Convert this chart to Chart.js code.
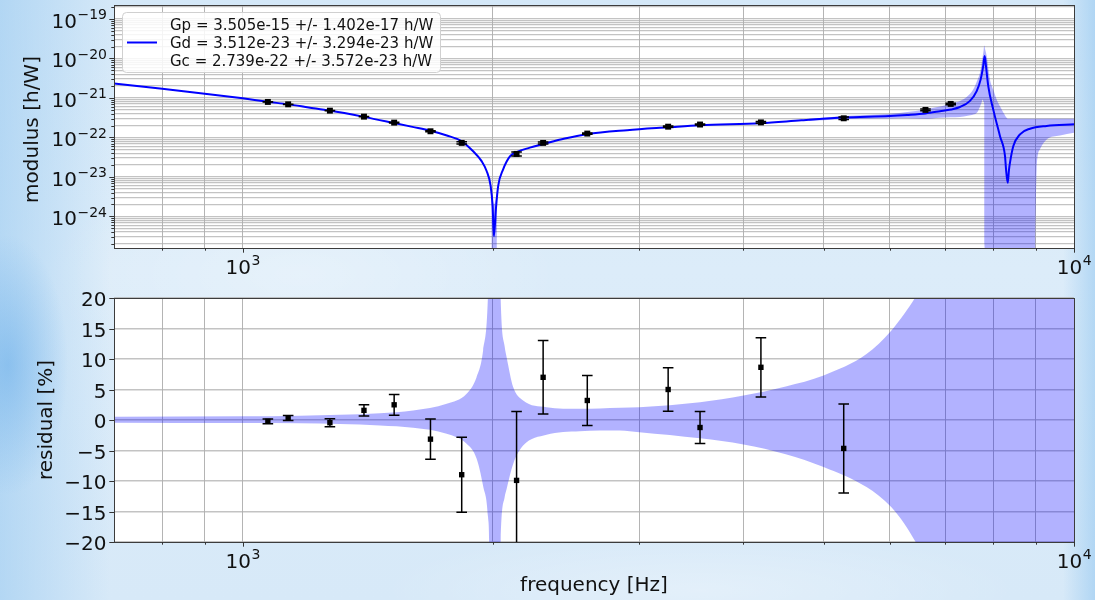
<!DOCTYPE html>
<html>
<head>
<meta charset="utf-8">
<script src="https://cdn.jsdelivr.net/npm/chart.js@4.4.1/dist/chart.umd.min.js"></script>
<style>
  html, body { margin: 0; padding: 0; }
  body {
    width: 1095px; height: 600px; overflow: hidden; position: relative;
    background:
      radial-gradient(ellipse 60px 130px at 8px 365px, rgba(95,168,232,0.5), rgba(95,168,232,0) 100%),
      linear-gradient(90deg, rgba(150,200,240,0.55) 0px, rgba(150,200,240,0) 110px),
      linear-gradient(270deg, rgba(145,198,240,0.55) 0px, rgba(145,198,240,0) 32px),
      radial-gradient(ellipse 260px 110px at 300px 275px, rgba(255,255,255,0.3), rgba(255,255,255,0) 100%),
      radial-gradient(ellipse 320px 60px at 700px 590px, rgba(255,255,255,0.3), rgba(255,255,255,0) 100%),
      linear-gradient(180deg, #d4e8f8 0%, #dcecf9 45%, #d7e9f8 100%);
  }
  canvas { position: absolute; left: 0; }
  #modulusChart { top: 0; }
  #residualChart { top: 290px; }
</style>
</head>
<body>
<canvas id="modulusChart" width="1095" height="290"></canvas>
<canvas id="residualChart" width="1095" height="310"></canvas>
<script>
// ---- measured transfer function (frequency in Hz, modulus in h/W) ----
const measFreq = [1072, 1134, 1273, 1399, 1521, 1682, 1834, 2135, 2298, 2597, 3249, 3549, 4201, 5284, 6627, 7107];
const measModulus = [7.92e-22, 6.89e-22, 4.76e-22, 3.36e-22, 2.37e-22, 1.43e-22, 7.26e-23, 3.82e-23,
                     7.26e-23, 1.25e-22, 1.87e-22, 2.12e-22, 2.40e-22, 3.05e-22, 4.97e-22, 7.05e-22];
const measModulusErr = [3.0e-24, 2.8e-24, 3.1e-24, 3.1e-24, 4.0e-24, 4.7e-24, 4.5e-24, 4.3e-24,
                        4.4e-24, 5.1e-24, 6.6e-24, 5.6e-24, 1.17e-23, 2.2e-23, 2.5e-23, 3.0e-23];

// ---- residuals of the fit [%] (first 14 measurement points) ----
const residual = [-0.22, 0.33, -0.44, 1.58, 2.49, -3.14, -8.97, -9.9, 7.0, 3.2, 5.0, -1.23, 8.64, -4.66];
const residualErr = [0.38, 0.4, 0.65, 0.93, 1.7, 3.3, 6.15, 11.3, 6.03, 4.1, 3.55, 2.64, 4.86, 7.3];

// ---- fitted model |G(f)| ----
const modelFreq = [700, 800, 900, 1000, 1072, 1134, 1200, 1273, 1399, 1521, 1600, 1682, 1760, 1834, 1893, 1938,
                   1965, 1987, 1998, 2005, 2016, 2029, 2057, 2096, 2135, 2215, 2298, 2440, 2597, 2900, 3249, 3549,
                   4201, 4700, 5284, 6000, 6300, 6627, 6900, 7112, 7292, 7497, 7637, 7722, 7777, 7808, 7836, 7886,
                   7995, 8147, 8260, 8284, 8322, 8353, 8375, 8453, 8610, 8852, 9271, 10000];
const modelModulus = [2.33e-21, 1.71e-21, 1.285e-21, 9.78e-22, 8.0e-22, 6.87e-22, 5.75e-22, 4.78e-22, 3.31e-22,
                      2.31e-22, 1.85e-22, 1.48e-22, 1.12e-22, 7.98e-23, 4.47e-23, 2.51e-23, 1.41e-23, 5.89e-24,
                      1.82e-24, 3.16e-25, 1.51e-24, 5.89e-24, 1.55e-23, 3.3e-23, 4.24e-23, 5.5e-23, 6.78e-23,
                      9.4e-23, 1.21e-22, 1.52e-22, 1.80e-22, 2.04e-22, 2.3e-22, 2.72e-22, 3.2e-22, 3.5e-22,
                      3.72e-22, 4.05e-22, 4.6e-22, 5.1e-22, 5.9e-22, 8.4e-22, 1.48e-21, 2.95e-21, 6.46e-21,
                      1.15e-20, 6.46e-21, 2.0e-21, 5.13e-22, 1.07e-22, 3.39e-23, 1.55e-23, 7.08e-24, 1.55e-23,
                      2.29e-23, 6.03e-23, 1.20e-22, 1.66e-22, 1.95e-22, 2.14e-22];

// ---- model uncertainty band, resonance region ----
const bandFreq = [4800, 5000, 5300, 5628, 6027, 6300, 6610, 6900, 7100, 7292, 7450, 7566, 7650, 7707, 7740, 7765,
                  7785, 7799, 7813, 7851, 7923, 8000, 8071, 8150, 8221, 8337, 8500, 8800, 8950, 8983, 9017, 9100,
                  9271, 9620, 10000];
const bandHigh = [2.98e-22, 3.17e-22, 3.49e-22, 3.72e-22, 4.0e-22, 4.4e-22, 5.13e-22, 6.03e-22, 7.08e-22, 8.32e-22,
                  1.12e-21, 1.66e-21, 2.82e-21, 4.37e-21, 7.08e-21, 1.12e-20, 1.58e-20, 2.14e-20, 1.78e-20, 1.15e-20,
                  2.95e-21, 1.58e-21, 9.12e-22, 6.03e-22, 4.27e-22, 2.95e-22, 2.95e-22, 2.95e-22, 2.95e-22, 2.95e-22,
                  2.95e-22, 2.95e-22, 2.95e-22, 2.95e-22, 2.95e-22];
const bandLow = [2.62e-22, 2.73e-22, 2.91e-22, 2.98e-22, 3.0e-22, 3.05e-22, 2.95e-22, 3.16e-22, 3.25e-22, 3.31e-22,
                 3.55e-22, 3.8e-22, 4.37e-22, 6.0e-22, 7.6e-22, 9.12e-22, 7.9e-22, 6.3e-22, 1e-27, 1e-27,
                 1e-27, 1e-27, 1e-27, 1e-27, 1e-27, 1e-27, 1e-27, 1e-27, 1e-27, 2.2e-25,
                 1.55e-23, 5.0e-23, 8.9e-23, 1.12e-22, 1.32e-22];

// ---- model uncertainty band around the notch ----
const notchFreq = [1990, 1997, 2005, 2014, 2024];
const notchHigh = [6.0e-24, 3.2e-24, 2.0e-24, 2.6e-24, 5.0e-24];
const notchLow = [3.0e-24, 1e-27, 1e-27, 1e-27, 2.5e-24];

// ---- relative model uncertainty band for the residual panel [%] ----
const residBandFreq = [700, 1000, 1171, 1308, 1462, 1603, 1759, 1859, 1911, 1946, 1973, 1979, 1990, 2005, 2025,
                       2042, 2066, 2077, 2115, 2174, 2320, 2544, 2843, 3000, 3549, 4003, 4500, 4997, 5628, 6027,
                       6250, 6468, 6700, 7000, 8000, 10000];
const residBandHigh = [0.55, 0.6, 0.7, 0.85, 1.12, 1.56, 2.65, 4.29, 7.0, 11.4, 21, 30, 60, 100, 60,
                       21, 12, 10.3, 5.4, 3.2, 2.1, 1.83, 2.0, 2.1, 2.9, 4.0, 5.5, 7.3, 10.8, 14.65,
                       17.4, 20.5, 24.5, 31, 60, 150];
const residBandLow = [-0.45, -0.5, -0.55, -0.65, -0.9, -1.28, -2.26, -3.9, -6.3, -10.8, -16, -20.5, -60, -100, -60,
                      -21, -12.6, -11.3, -7.2, -4.2, -2.4, -1.83, -1.71, -2.0, -3.0, -4.0, -5.6, -7.7, -11.0, -14.26,
                      -17.0, -20.3, -24, -30, -60, -150];

// ---- axes and labels ----
const freqRange = [700, 10000];
const modulusRange = [1.58e-25, 2.26e-19];
const residRange = [-20, 20];
const freqMajor = [1000, 10000];
const modulusMajor = [1e-24, 1e-23, 1e-22, 1e-21, 1e-20, 1e-19];
const residTicks = [-20, -15, -10, -5, 0, 5, 10, 15, 20];
const fitLines = [
  'Gp = 3.505e-15 +/- 1.402e-17 h/W',
  'Gd = 3.512e-23 +/- 3.294e-23 h/W',
  'Gc = 2.739e-22 +/- 3.572e-23 h/W'
];
const titles = { modulus: 'modulus [h/W]', residual: 'residual [%]', frequency: 'frequency [Hz]' };

const FONT = '"DejaVu Sans", "Liberation Sans", sans-serif';
const BAND = 'rgba(0,0,255,0.3)';
const LINE = '#0000ff';

const pts = (xs, ys) => xs.map((x, i) => ({ x, y: ys[i] }));
const expOf = v => Math.round(Math.log10(v));
const isMajorLog = (v, majors) => majors.some(m => Math.abs(v / m - 1) < 1e-6);

function logTicks(min, max) {
  const out = [];
  for (let n = Math.floor(Math.log10(min)); n <= Math.ceil(Math.log10(max)); n++) {
    for (let k = 1; k <= 9; k++) {
      const v = k * Math.pow(10, n);
      if (v >= min * 0.9999 && v <= max * 1.0001) out.push(v);
    }
  }
  return out;
}

// "10" with a raised exponent, like mathtext
function pow10Label(ctx, x, y, exp, align) {
  const base = '10';
  const sup = exp < 0 ? '\u2212' + (-exp) : String(exp);
  ctx.font = '20px ' + FONT; const wb = ctx.measureText(base).width;
  ctx.font = '14px ' + FONT; const ws = ctx.measureText(sup).width;
  const left = align === 'center' ? x - (wb + ws) / 2 : x - (wb + ws);
  ctx.textAlign = 'left'; ctx.textBaseline = 'alphabetic';
  ctx.font = '20px ' + FONT; ctx.fillText(base, left, y);
  ctx.font = '14px ' + FONT; ctx.fillText(sup, left + wb + 0.5, y - 8.7);
}

// white axes face, frame, tick marks, tick labels, axis titles, legend
const framePlugin = {
  id: 'frame',
  beforeDraw(chart) {
    const { ctx, chartArea: a } = chart;
    ctx.save();
    ctx.fillStyle = '#ffffff';
    ctx.fillRect(a.left, a.top, a.right - a.left, a.bottom - a.top);
    ctx.restore();
  },
  afterDraw(chart, args, opts) {
    const { ctx, chartArea: a } = chart;
    const xs = chart.scales.x, ys = chart.scales.y;
    ctx.save();
    ctx.strokeStyle = '#3c3c3c'; ctx.lineWidth = 1;
    ctx.strokeRect(Math.round(a.left) + 0.5, Math.round(a.top) + 0.5,
                   Math.round(a.right - a.left), Math.round(a.bottom - a.top));
    ctx.fillStyle = '#111'; ctx.strokeStyle = '#333';
    // x ticks
    ctx.beginPath();
    xs.ticks.forEach(t => {
      const px = Math.round(xs.getPixelForValue(t.value)) + 0.5;
      const len = isMajorLog(t.value, freqMajor) ? 4.7 : 2.7;
      ctx.moveTo(px, a.bottom); ctx.lineTo(px, a.bottom + len);
    });
    // y ticks
    ys.ticks.forEach(t => {
      const py = Math.round(ys.getPixelForValue(t.value)) + 0.5;
      const major = opts.logY ? isMajorLog(t.value, modulusMajor) : true;
      const len = major ? 4.7 : 2.7;
      ctx.moveTo(a.left - len, py); ctx.lineTo(a.left, py);
    });
    ctx.stroke();
    // x tick labels
    freqMajor.forEach(v => {
      pow10Label(ctx, xs.getPixelForValue(v), a.bottom + 25.8, expOf(v), 'center');
    });
    // y tick labels
    if (opts.logY) {
      modulusMajor.forEach(v => {
        pow10Label(ctx, 106.5, ys.getPixelForValue(v) + 9, expOf(v), 'right');
      });
    } else {
      ctx.font = '20px ' + FONT; ctx.textAlign = 'right'; ctx.textBaseline = 'alphabetic';
      residTicks.forEach(v => {
        const s = v < 0 ? '\u2212' + (-v) : String(v);
        ctx.fillText(s, 106.5, ys.getPixelForValue(v) + 8);
      });
    }
    // axis titles
    ctx.font = '20px ' + FONT; ctx.textAlign = 'center'; ctx.textBaseline = 'alphabetic';
    ctx.save();
    ctx.translate(opts.yTitleX, (a.top + a.bottom) / 2 + opts.yTitleShift);
    ctx.rotate(-Math.PI / 2);
    ctx.fillText(opts.yTitle, 0, 0);
    ctx.restore();
    if (opts.xTitle) ctx.fillText(opts.xTitle, (a.left + a.right) / 2, a.bottom + 49);
    // legend with fit results
    if (opts.legend) {
      const bx = 122, by = 12, bw = 318, bh = 60;
      ctx.beginPath();
      ctx.roundRect(bx + 0.5, by + 0.5, bw, bh, 4);
      ctx.fillStyle = 'rgba(255,255,255,0.85)'; ctx.fill();
      ctx.strokeStyle = '#d0d0d0'; ctx.lineWidth = 1; ctx.stroke();
      ctx.beginPath(); ctx.strokeStyle = LINE; ctx.lineWidth = 2;
      ctx.moveTo(127, 42.5); ctx.lineTo(157, 42.5); ctx.stroke();
      ctx.fillStyle = '#111'; ctx.font = '15px ' + FONT; ctx.textAlign = 'left';
      fitLines.forEach((s, i) => ctx.fillText(s, 170, 29.5 + 18 * i));
    }
    ctx.restore();
  }
};

// vertical error bars with caps
const errorBarPlugin = {
  id: 'errorBars',
  afterDatasetsDraw(chart) {
    const { ctx, chartArea: a } = chart;
    chart.data.datasets.forEach((ds, i) => {
      if (!ds.errors) return;
      const meta = chart.getDatasetMeta(i);
      const ys = chart.scales[meta.yAxisID];
      ctx.save();
      ctx.beginPath(); ctx.rect(a.left, a.top, a.right - a.left, a.bottom - a.top); ctx.clip();
      ctx.strokeStyle = '#000'; ctx.lineWidth = 1.5;
      ctx.beginPath();
      meta.data.forEach((el, j) => {
        const v = ds.data[j].y, e = ds.errors[j];
        const y1 = ys.getPixelForValue(v + e), y2 = ys.getPixelForValue(v - e);
        const x = el.x;
        ctx.moveTo(x, y1); ctx.lineTo(x, y2);
        ctx.moveTo(x - 5.3, y1); ctx.lineTo(x + 5.3, y1);
        ctx.moveTo(x - 5.3, y2); ctx.lineTo(x + 5.3, y2);
      });
      ctx.stroke();
      ctx.restore();
    });
  }
};

function xScale(height) {
  return {
    type: 'logarithmic', min: freqRange[0], max: freqRange[1],
    afterBuildTicks: s => { s.ticks = logTicks(800, freqRange[1]).map(v => ({ value: v })); },
    afterFit: s => { s.height = height; },
    ticks: { display: false },
    border: { display: false },
    grid: { color: '#b4b4b4', lineWidth: 1, drawTicks: false }
  };
}

const common = {
  type: 'line',
  plugins: [framePlugin, errorBarPlugin]
};
const baseOptions = {
  responsive: false, animation: false, devicePixelRatio: 1,
  events: [],
  elements: { line: { cubicInterpolationMode: 'monotone' } }
};

// ---- upper panel: modulus ----
new Chart(document.getElementById('modulusChart'), {
  ...common,
  data: {
    datasets: [
      { data: pts(measFreq, measModulus), errors: measModulusErr, showLine: false,
        pointStyle: 'rect', pointRadius: 4.2, pointBackgroundColor: '#000', pointBorderWidth: 0 },
      { data: pts(modelFreq, modelModulus), borderColor: LINE, borderWidth: 2, pointRadius: 0, fill: false },
      { data: pts(bandFreq, bandHigh), borderColor: 'transparent', borderWidth: 0, pointRadius: 0,
        backgroundColor: BAND, fill: '+1' },
      { data: pts(bandFreq, bandLow), borderColor: 'transparent', borderWidth: 0, pointRadius: 0, fill: false },
      { data: pts(notchFreq, notchHigh), borderColor: 'transparent', borderWidth: 0, pointRadius: 0,
        backgroundColor: BAND, fill: '+1' },
      { data: pts(notchFreq, notchLow), borderColor: 'transparent', borderWidth: 0, pointRadius: 0, fill: false }
    ]
  },
  options: {
    ...baseOptions,
    layout: { padding: { left: 0, right: 21, top: 5, bottom: 0 } },
    plugins: {
      legend: { display: false }, tooltip: { enabled: false },
      frame: { logY: true, yTitle: titles.modulus, yTitleX: 37.5, yTitleShift: 3, legend: true }
    },
    scales: {
      x: xScale(42),
      y: {
        type: 'logarithmic', min: modulusRange[0], max: modulusRange[1],
        afterBuildTicks: s => { s.ticks = logTicks(modulusRange[0], modulusRange[1]).map(v => ({ value: v })); },
        afterFit: s => { s.width = 114; },
        ticks: { display: false },
        border: { display: false },
        grid: { color: 'rgba(175,175,175,0.75)', lineWidth: 1.2, drawTicks: false }
      }
    }
  }
});

// ---- lower panel: residuals ----
new Chart(document.getElementById('residualChart'), {
  ...common,
  data: {
    datasets: [
      { data: pts(measFreq.slice(0, residual.length), residual), errors: residualErr, showLine: false,
        pointStyle: 'rect', pointRadius: 3.8, pointBackgroundColor: '#000', pointBorderWidth: 0 },
      { data: pts(residBandFreq, residBandHigh), borderColor: 'transparent', borderWidth: 0, pointRadius: 0,
        backgroundColor: BAND, fill: '+1' },
      { data: pts(residBandFreq, residBandLow), borderColor: 'transparent', borderWidth: 0, pointRadius: 0,
        fill: false }
    ]
  },
  options: {
    ...baseOptions,
    layout: { padding: { left: 0, right: 21, top: 8, bottom: 0 } },
    plugins: {
      legend: { display: false }, tooltip: { enabled: false },
      frame: { logY: false, yTitle: titles.residual, yTitleX: 52, yTitleShift: 0, xTitle: titles.frequency }
    },
    scales: {
      x: xScale(58),
      y: {
        type: 'linear', min: residRange[0], max: residRange[1],
        afterBuildTicks: s => { s.ticks = residTicks.map(v => ({ value: v })); },
        afterFit: s => { s.width = 114; },
        ticks: { display: false },
        border: { display: false },
        grid: { color: 'rgba(175,175,175,0.75)', lineWidth: 1.5, drawTicks: false }
      }
    }
  }
});
</script>
</body>
</html>
